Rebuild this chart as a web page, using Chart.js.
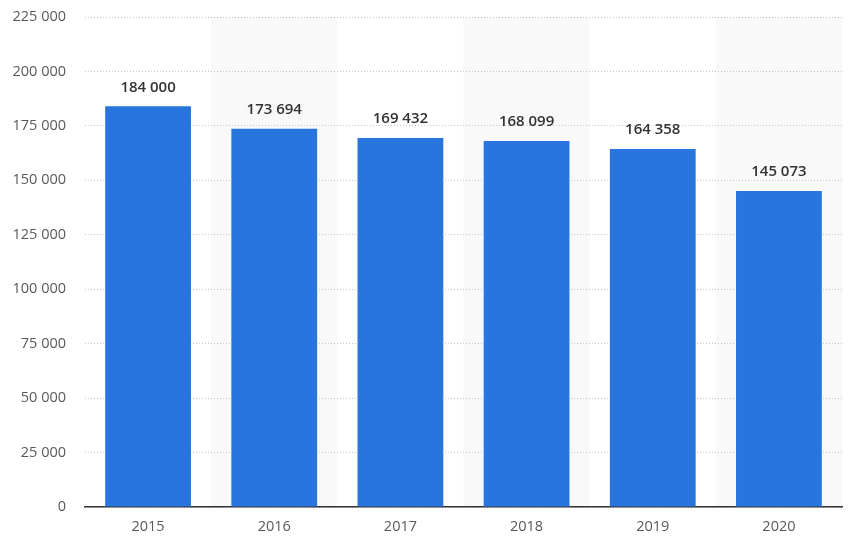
<!DOCTYPE html>
<html>
<head>
<meta charset="utf-8">
<script src="https://cdn.jsdelivr.net/npm/chart.js@4/dist/chart.umd.min.js"></script>
<style>
  html, body { margin: 0; padding: 0; background: #fff; }
  #wrap { width: 858px; height: 548px; position: relative; }
</style>
</head>
<body>
<div id="wrap"><canvas id="chart"></canvas></div>
<script>
// data
const years = ['2015', '2016', '2017', '2018', '2019', '2020'];
const values = [184000, 173694, 169432, 168099, 164358, 145073];
const yMax = 225000;
const yStep = 25000;

const fmt = v => String(v).replace(/\B(?=(\d{3})+(?!\d))/g, ' ');

// striped column backgrounds (every second category), drawn under grid and axis
const bandsPlugin = {
    id: 'bands',
    beforeDraw(chart) {
        const { ctx, chartArea, scales } = chart;
        const x = scales.x;
        if (!x) return;
        ctx.save();
        ctx.fillStyle = '#f9f9f9';
        years.forEach((y, i) => {
            if (i % 2 === 0) return;
            const left = x.getPixelForValue(i - 0.5);
            const right = x.getPixelForValue(i + 0.5);
            ctx.fillRect(left, chartArea.top, right - left, chartArea.bottom - chartArea.top);
        });
        ctx.restore();
    }
};

// value labels above the bars
const labelsPlugin = {
    id: 'valueLabels',
    afterDatasetsDraw(chart) {
        const { ctx } = chart;
        const meta = chart.getDatasetMeta(0);
        ctx.save();
        ctx.font = '600 15px "Open Sans", sans-serif';
        ctx.fillStyle = '#333';
        ctx.textAlign = 'center';
        ctx.textBaseline = 'middle';
        meta.data.forEach((bar, i) => {
            ctx.fillText(fmt(values[i]), bar.x, bar.y - 19);
        });
        ctx.restore();
    }
};

new Chart(document.getElementById('chart'), {
    type: 'bar',
    data: {
        labels: years,
        datasets: [{
            data: values,
            backgroundColor: '#2876dd',
            borderWidth: 0,
            barPercentage: 0.68,
            categoryPercentage: 1
        }]
    },
    options: {
        responsive: true,
        maintainAspectRatio: false,
        animation: false,
        layout: { padding: { top: 17, right: 16, left: 0, bottom: 0 } },
        plugins: { legend: { display: false }, tooltip: { enabled: false } },
        scales: {
            x: {
                grid: { display: false, drawTicks: false },
                border: { display: true, color: '#333', width: 1.5 },
                ticks: { color: '#595959', font: { family: '"Open Sans", sans-serif', size: 14.5 }, padding: 11 },
                afterFit(scale) { scale.height = 41; scale.paddingLeft = 0; scale.paddingRight = 0; }
            },
            y: {
                min: 0,
                max: yMax,
                grid: { color: '#c4c4c4', drawTicks: false, lineWidth: 1 },
                border: { display: false, dash: [1, 2] },
                ticks: {
                    stepSize: yStep,
                    color: '#595959',
                    padding: 19,
                    font: { family: '"Open Sans", sans-serif', size: 14.5 },
                    callback: v => fmt(v)
                },
                afterFit(scale) { scale.width = 85; scale.paddingTop = 0; scale.paddingBottom = 0; }
            }
        }
    },
    plugins: [bandsPlugin, labelsPlugin]
});
</script>
</body>
</html>
